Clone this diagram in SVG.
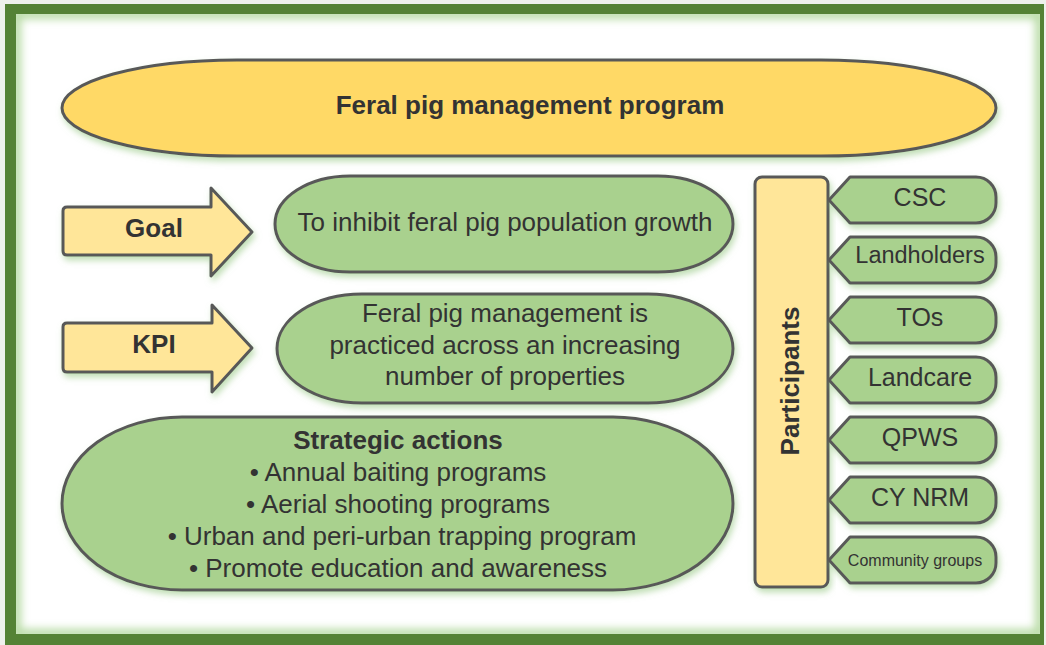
<svg xmlns="http://www.w3.org/2000/svg" width="1046" height="645" viewBox="0 0 1046 645">
  <defs>
    <filter id="glow" x="-10%" y="-20%" width="120%" height="150%">
      <feDropShadow dx="2" dy="4" stdDeviation="3" flood-color="#8fc47a" flood-opacity="0.55"/>
    </filter>
    <filter id="blur" x="-5%" y="-5%" width="110%" height="110%">
      <feGaussianBlur stdDeviation="4"/>
    </filter>
    <clipPath id="inner"><rect x="16" y="14" width="1024" height="620"/></clipPath>
  </defs>
  <style>
    .shape { stroke: #595959; stroke-width: 3; stroke-linejoin: round; filter: url(#glow); }
    .green { fill: #a9d18e; }
    .gold { fill: #ffd966; }
    .pale { fill: #ffe699; }
    text { font-family: "Liberation Sans", Arial, sans-serif; fill: #333333; text-anchor: middle; }
    .b { font-weight: bold; font-size: 26px; }
    .r { font-size: 26px; }
    .t { font-size: 25px; }
  </style>

  <!-- background and frame -->
  <rect x="0" y="0" width="1046" height="645" fill="#eef1ec"/>
  <rect x="5" y="4" width="1039" height="641" fill="#548235"/>
  <rect x="16" y="14" width="1024" height="620" fill="#ffffff"/>
  <g clip-path="url(#inner)">
    <rect x="16" y="14" width="1024" height="620" fill="none" stroke="#b8dba5" stroke-width="10" filter="url(#blur)"/>
  </g>

  <g id="program">
    <rect class="shape gold" x="62" y="60" width="934" height="96" rx="175" ry="48"/>
    <text class="b" x="530" y="114">Feral pig management program</text>
  </g>

  <g id="goal-arrow">
    <path class="shape pale" d="M67,207 H211 V188 L252,232 L211,276 V255 H67 Q63,255 63,251 V211 Q63,207 67,207 Z"/>
    <text class="b" x="154" y="237">Goal</text>
  </g>

  <g id="goal">
    <rect class="shape green" x="275" y="176" width="458" height="96" rx="75" ry="48"/>
    <text class="r" x="505" y="231">To inhibit feral pig population growth</text>
  </g>

  <g id="kpi-arrow">
    <path class="shape pale" d="M67,323 H212 V305 L252,348 L212,392 V372 H67 Q63,372 63,368 V327 Q63,323 67,323 Z"/>
    <text class="b" x="154" y="353">KPI</text>
  </g>

  <g id="kpi">
    <rect class="shape green" x="277" y="294" width="456" height="109" rx="85" ry="54.5"/>
    <text class="r" x="505" y="322">Feral pig management is</text>
    <text class="r" x="505" y="354">practiced across an increasing</text>
    <text class="r" x="505" y="385">number of properties</text>
  </g>

  <g id="strategic-actions">
    <rect class="shape green" x="62" y="417" width="671" height="173" rx="120" ry="86.5"/>
    <text class="b" x="398" y="449">Strategic actions</text>
    <text class="r" x="398" y="481">• Annual baiting programs</text>
    <text class="r" x="398" y="513">• Aerial shooting programs</text>
    <text class="r" x="402" y="545">• Urban and peri-urban trapping program</text>
    <text class="r" x="398" y="577">• Promote education and awareness</text>
  </g>

  <g id="participants">
    <rect class="shape pale" x="755" y="177" width="73" height="410" rx="7"/>
    <text class="b" transform="translate(799,381) rotate(-90)" x="0" y="0">Participants</text>
  </g>

  <g id="csc">
    <path class="shape green" d="M829,200 L850,177 H976 A20,20 0 0 1 996,197 V203 A20,20 0 0 1 976,223 H850 Z"/>
    <text class="t" x="920" y="206">CSC</text>
  </g>
  <g id="landholders">
    <path class="shape green" d="M829,260 L850,237 H976 A20,20 0 0 1 996,257 V263 A20,20 0 0 1 976,283 H850 Z"/>
    <text x="920" y="263" style="font-size:23.5px">Landholders</text>
  </g>
  <g id="tos">
    <path class="shape green" d="M829,320 L850,297 H976 A20,20 0 0 1 996,317 V323 A20,20 0 0 1 976,343 H850 Z"/>
    <text class="t" x="920" y="326">TOs</text>
  </g>
  <g id="landcare">
    <path class="shape green" d="M829,380 L850,357 H976 A20,20 0 0 1 996,377 V383 A20,20 0 0 1 976,403 H850 Z"/>
    <text class="t" x="920" y="386">Landcare</text>
  </g>
  <g id="qpws">
    <path class="shape green" d="M829,440 L850,417 H976 A20,20 0 0 1 996,437 V443 A20,20 0 0 1 976,463 H850 Z"/>
    <text class="t" x="920" y="446">QPWS</text>
  </g>
  <g id="cy-nrm">
    <path class="shape green" d="M829,500 L850,477 H976 A20,20 0 0 1 996,497 V503 A20,20 0 0 1 976,523 H850 Z"/>
    <text class="t" x="920" y="506">CY NRM</text>
  </g>
  <g id="community-groups">
    <path class="shape green" d="M829,560 L850,537 H976 A20,20 0 0 1 996,557 V563 A20,20 0 0 1 976,583 H850 Z"/>
    <text x="915" y="566" style="font-size:16px">Community groups</text>
  </g>

  <g id="connectors"></g>
</svg>
